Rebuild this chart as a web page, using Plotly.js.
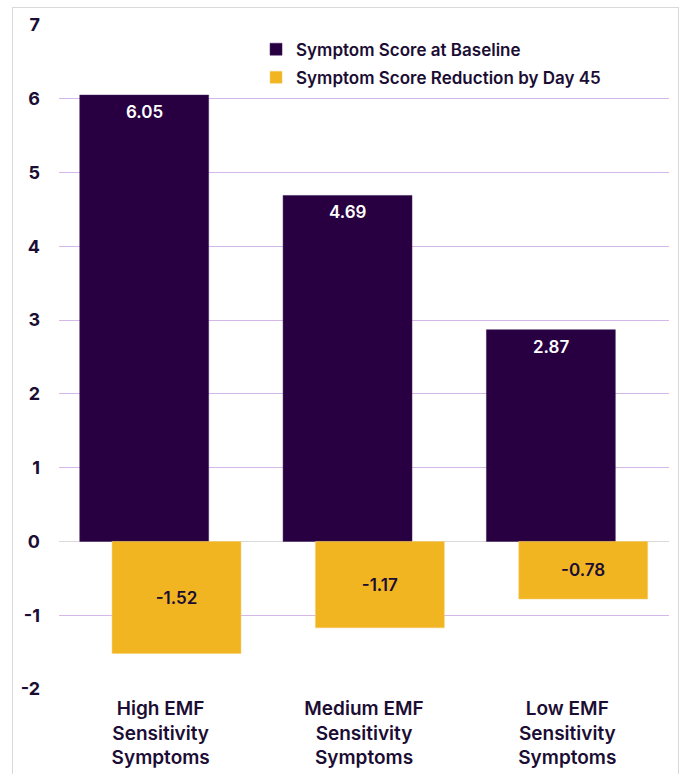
<!DOCTYPE html>
<html>
<head>
<meta charset="utf-8">
<script src="https://cdn.plot.ly/plotly-3.0.1.min.js"></script>
<style>
html,body{margin:0;padding:0;background:#fff;}
#frame{position:absolute;left:12px;top:7px;width:667px;height:800px;border:1px solid #d9d9d9;box-sizing:border-box;}
#chart{position:absolute;left:0;top:0;width:688px;height:774px;}
</style>
</head>
<body>
<div id="frame"></div>
<div id="chart"></div>
<script>
const categories = ["High EMF<br>Sensitivity<br>Symptoms", "Medium EMF<br>Sensitivity<br>Symptoms", "Low EMF<br>Sensitivity<br>Symptoms"];
const baseline = [6.05, 4.69, 2.87];
const reduction = [-1.52, -1.17, -0.78];
const seriesNames = ["Symptom Score at Baseline", "Symptom Score Reduction by Day 45"];
const yTicks = [-2, -1, 0, 1, 2, 3, 4, 5, 6, 7];

const FONT = "Inter, DejaVu Sans, sans-serif";
const DARK = "#280042";
const YELLOW = "#f2b522";
const TEXTC = "#1b0d33";
const BAR_W = 0.634, DARK_OFF = -0.398, YEL_OFF = -0.239;

const traces = [
  {
    type: "bar", name: seriesNames[0], x: categories, y: baseline, legendgroup: "a",
    width: BAR_W, offset: DARK_OFF,
    marker: {color: DARK, line: {color: "#3a1a55", width: 0.5}},
    hoverinfo: "skip"
  },
  {
    type: "bar", name: seriesNames[1], x: categories, y: reduction, legendgroup: "b",
    width: BAR_W, offset: YEL_OFF,
    marker: {color: YELLOW, line: {color: "#f5cc66", width: 0.5}},
    text: reduction.map(v => v.toFixed(2)), textposition: "inside", insidetextanchor: "middle",
    textfont: {family: FONT, size: 17, color: TEXTC, weight: 600},
    hoverinfo: "skip"
  }
];

const annotations = baseline.map((v, i) => ({
  x: i + DARK_OFF + BAR_W / 2, y: v, xref: "x", yref: "y",
  text: v.toFixed(2), showarrow: false, yanchor: "middle", yshift: -17,
  font: {family: FONT, size: 17, color: "#ffffff", weight: 600}
}));

const layout = {
  width: 688, height: 774,
  margin: {l: 58.7, r: 19, t: 24.5, b: 84.7, pad: 0},
  paper_bgcolor: "rgba(0,0,0,0)", plot_bgcolor: "rgba(0,0,0,0)",
  barmode: "overlay",
  showlegend: true,
  annotations: annotations,
  legend: {
    x: 0.323, y: 0.99, xanchor: "left", yanchor: "top",
    bgcolor: "rgba(0,0,0,0)", tracegroupgap: 3,
    font: {family: FONT, size: 17, color: TEXTC, weight: 600},
    itemclick: false, itemdoubleclick: false, traceorder: "grouped"
  },
  font: {family: FONT, color: TEXTC},
  xaxis: {
    type: "category", showgrid: false, zeroline: false, showline: false, ticks: "",
    ticklabelstandoff: 6,
    tickfont: {family: FONT, size: 19, color: TEXTC, weight: 600},
    fixedrange: true
  },
  yaxis: {
    range: [-2, 7], tickvals: yTicks, ticktext: yTicks.map(String),
    showgrid: true, gridcolor: "#d5b8ea", gridwidth: 1,
    zeroline: true, zerolinecolor: "#d9d9d9", zerolinewidth: 1.5,
    showline: false, ticks: "", ticklabelstandoff: 18,
    tickfont: {family: FONT, size: 18, color: TEXTC, weight: 700},
    fixedrange: true
  }
};

Plotly.newPlot("chart", traces, layout, {displayModeBar: false, staticPlot: true});
</script>
</body>
</html>
